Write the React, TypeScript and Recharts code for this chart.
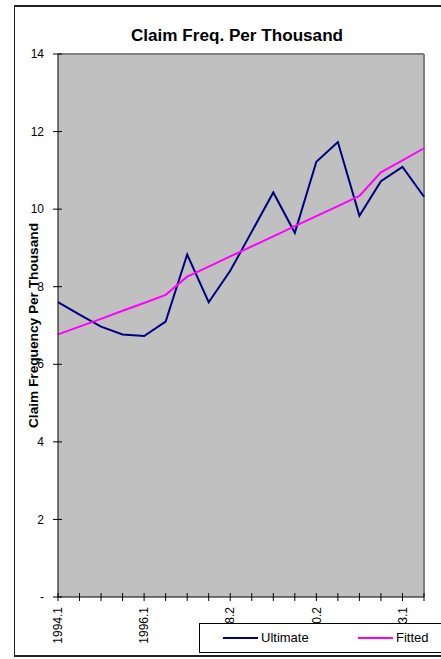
import React from "react";
import { LineChart, Line, XAxis, YAxis, CartesianGrid, ReferenceLine } from "recharts";

const periods = [
  "1994.1", "1994.2", "1995.1", "1995.2", "1996.1", "1996.2", "1997.1", "1998.1", "1998.2",
  "1999.1", "1999.2", "2000.1", "2000.2", "2001.1", "2002.1", "2002.2", "2003.1", "2003.2",
];
const ultimate = [7.6, 7.28, 6.97, 6.77, 6.73, 7.1, 8.83, 7.6, 8.41, 9.42, 10.43, 9.39, 11.22, 11.73, 9.83, 10.72, 11.09, 10.32];
const fitted = [6.77, 6.97, 7.17, 7.38, 7.58, 7.79, 8.26, 8.52, 8.78, 9.04, 9.3, 9.56, 9.82, 10.08, 10.34, 10.95, 11.26, 11.57];
const yTicks = [0, 2, 4, 6, 8, 10, 12, 14];

const rows = periods.map((p, i) => ({ p, ultimate: ultimate[i], fitted: fitted[i] }));

const FONT = "Arial, 'Liberation Sans', sans-serif";

function YTick(props: any) {
  const { x, y, payload } = props;
  const label = payload.value === 0 ? "-" : String(payload.value);
  return (
    <g>
      <line x1={x - 5} x2={x + 4} y1={y} y2={y} stroke="#000" />
      <text x={x - 14} y={y} dy="0.35em" textAnchor="end" fontSize={12} fontFamily={FONT} fill="#000">
        {label}
      </text>
    </g>
  );
}

function XTick(props: any) {
  const { x, y, payload, index } = props;
  return (
    <g>
      <line x1={x} x2={x} y1={y - 4} y2={y + 4} stroke="#000" />
      {index % 4 === 0 && (
        <text
          x={x}
          y={y + 10}
          dy="0.35em"
          textAnchor="end"
          transform={`rotate(-90, ${x}, ${y + 10})`}
          fontSize={12}
          fontFamily={FONT}
          fill="#000"
        >
          {payload.value}
        </text>
      )}
    </g>
  );
}

function YLabel(props: any) {
  const { viewBox } = props;
  const cx = viewBox.x + viewBox.width / 2 + 4;
  const cy = viewBox.y + viewBox.height / 2;
  return (
    <text
      x={cx}
      y={cy}
      dy="0.35em"
      textAnchor="middle"
      transform={`rotate(-90, ${cx}, ${cy})`}
      textLength={205}
      lengthAdjust="spacingAndGlyphs"
      fontFamily={FONT}
      fontWeight="bold"
      fontSize={13}
      fill="#000"
    >
      Claim Frequency Per Thousand
    </text>
  );
}

export default function App() {
  return (
    <div style={{ position: "absolute", left: 0, top: 0, width: 441, height: 659, overflow: "hidden", background: "#fff" }}>
      <div
        style={{
          position: "absolute",
          left: 14,
          top: 5,
          width: 460,
          height: 652,
          boxSizing: "border-box",
          borderTop: "2px solid #222",
          borderBottom: "2px solid #222",
          borderLeft: "1px solid #222",
        }}
      />
      <div
        style={{
          position: "absolute",
          left: 0,
          width: 474,
          top: 27,
          textAlign: "center",
          fontFamily: FONT,
          fontWeight: "bold",
          fontSize: 16,
          lineHeight: "18px",
          transform: "scaleX(1.07)",
          transformOrigin: "237px 0",
        }}
      >
        Claim Freq. Per Thousand
      </div>
      <div style={{ position: "absolute", left: 0, top: 0 }}>
        <LineChart width={441} height={659} data={rows} margin={{ top: 54, right: 17, left: 0, bottom: 0 }}>
          <CartesianGrid fill="#C0C0C0" horizontal={false} vertical={false} />
          <ReferenceLine y={14} stroke="#808080" strokeWidth={2} />
          <ReferenceLine x={periods[periods.length - 1]} stroke="#808080" strokeWidth={2} />
          <XAxis
            dataKey="p"
            interval={0}
            height={62}
            tickSize={0}
            tickMargin={0}
            tickLine={false}
            axisLine={{ stroke: "#000" }}
            tick={<XTick />}
          />
          <YAxis
            domain={[0, 14]}
            ticks={yTicks}
            width={58}
            tickSize={0}
            tickMargin={0}
            tickLine={false}
            axisLine={{ stroke: "#000" }}
            tick={<YTick />}
            label={<YLabel />}
          />
          <Line dataKey="ultimate" stroke="#000080" strokeWidth={2} dot={false} isAnimationActive={false} />
          <Line dataKey="fitted" stroke="#FF00FF" strokeWidth={2} dot={false} isAnimationActive={false} />
        </LineChart>
      </div>
      <div
        style={{
          position: "absolute",
          left: 199,
          top: 623,
          width: 270,
          height: 30,
          boxSizing: "border-box",
          border: "1px solid #000",
          background: "#fff",
          fontFamily: FONT,
          fontSize: 13,
        }}
      >
        <div style={{ position: "absolute", left: 23, top: 13, width: 35, height: 2, background: "#000080" }} />
        <div style={{ position: "absolute", left: 61, top: 6 }}>Ultimate</div>
        <div style={{ position: "absolute", left: 158, top: 13, width: 35, height: 2, background: "#FF00FF" }} />
        <div style={{ position: "absolute", left: 196, top: 6 }}>Fitted</div>
      </div>
    </div>
  );
}
